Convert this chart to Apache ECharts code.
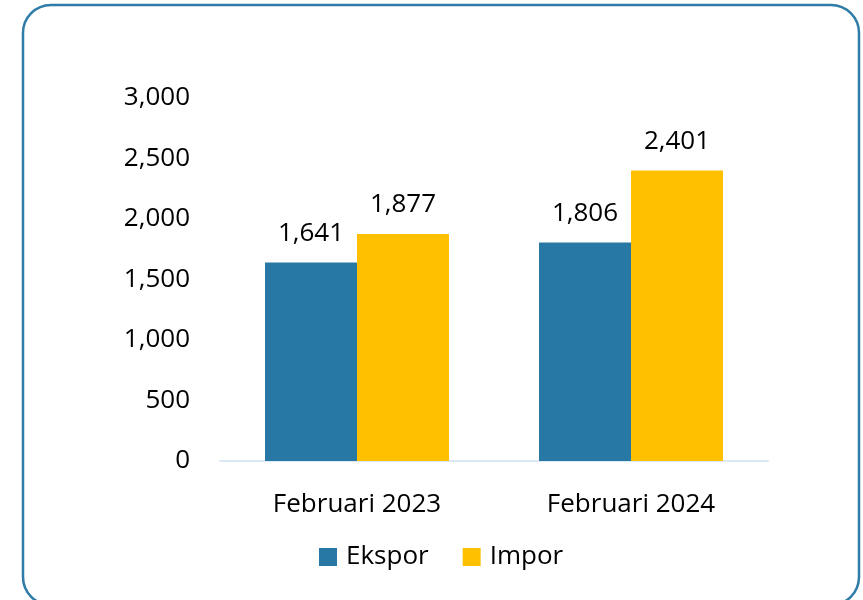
<!DOCTYPE html>
<html>
<head>
<meta charset="utf-8">
<script src="https://cdn.jsdelivr.net/npm/echarts@6/dist/echarts.min.js"></script>
<style>
  html, body { margin: 0; padding: 0; background: #ffffff; }
  #chart { width: 863px; height: 600px; }
</style>
</head>
<body>
<div id="chart"></div>
<script>
// Trade values (Februari 2023 vs Februari 2024)
const categories = ['Februari 2023', 'Februari 2024'];
const seriesNames = ['Ekspor', 'Impor'];
const ekspor = [1641, 1806];
const impor = [1877, 2401];
const yTicks = [0, 500, 1000, 1500, 2000, 2500, 3000];

const FONT = 'Open Sans';
const fmt = v => v.toLocaleString('en-US');

const chart = echarts.init(document.getElementById('chart'), null, { renderer: 'canvas' });

chart.setOption({
  backgroundColor: '#ffffff',
  animation: false,
  textStyle: { fontFamily: FONT, color: '#000000' },
  graphic: [{
    type: 'rect',
    shape: { x: 23, y: 5, width: 836, height: 600, r: 28 },
    style: { fill: 'none', stroke: '#2E7CA7', lineWidth: 2.5 },
    z: 100
  }],
  grid: { left: 220, right: 95, top: 98, bottom: 139 },
  legend: {
    data: seriesNames,
    bottom: 25,
    left: 314,
    itemWidth: 18,
    itemHeight: 18,
    itemGap: 34,
    icon: 'rect',
    textStyle: { fontFamily: FONT, fontSize: 26, color: '#000000', padding: [0, 0, 0, 4] }
  },
  xAxis: {
    type: 'category',
    data: categories,
    axisLine: { show: true, lineStyle: { color: '#DCE8F6', width: 2 } },
    axisTick: { show: false },
    axisLabel: { fontFamily: FONT, fontSize: 26, color: '#000000', margin: 31 }
  },
  yAxis: {
    type: 'value',
    min: yTicks[0],
    max: yTicks[yTicks.length - 1],
    interval: yTicks[1] - yTicks[0],
    splitLine: { show: false },
    axisLine: { show: false },
    axisTick: { show: false },
    axisLabel: { fontFamily: FONT, fontSize: 26, color: '#000000', margin: 30, formatter: fmt }
  },
  series: [
    {
      name: seriesNames[0],
      type: 'bar',
      data: ekspor,
      barWidth: 92,
      barGap: '0%',
      itemStyle: { color: '#2878A5' },
      label: { show: true, position: 'top', distance: 16, fontFamily: FONT, fontSize: 26, color: '#000000', formatter: p => fmt(p.value) }
    },
    {
      name: seriesNames[1],
      type: 'bar',
      data: impor,
      barWidth: 92,
      barGap: '0%',
      itemStyle: { color: '#FFC000' },
      label: { show: true, position: 'top', distance: 16, fontFamily: FONT, fontSize: 26, color: '#000000', formatter: p => fmt(p.value) }
    }
  ]
});
</script>
</body>
</html>
